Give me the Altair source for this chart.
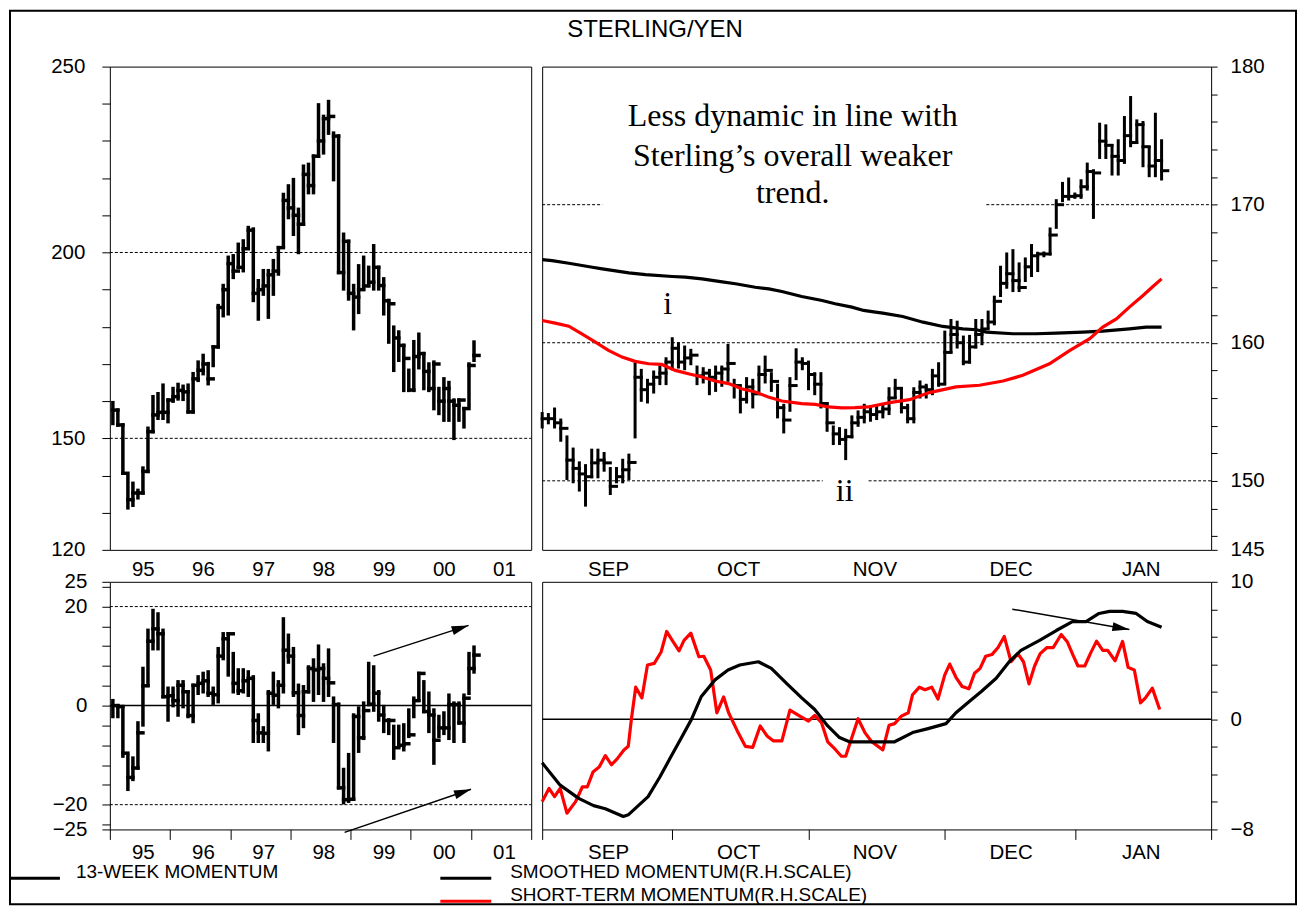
import json
import altair as alt
import pandas as pd

SANS = "Liberation Sans"
SERIF = "Liberation Serif"
RED = "#ff0000"

# ---------------- data: long-term (monthly) bars, top-left ----------------
tl_high = [159.6, 157.6, 153.6, 139.7, 137.9, 136.0, 142.0, 152.7, 161.2, 162.0,
           164.3, 160.3, 163.4, 164.5, 164.0, 164.3, 167.4, 170.5, 172.3, 170.1,
           174.6, 185.7, 191.1, 198.7, 199.1, 202.2, 203.1, 206.7, 206.3, 192.4,
           195.1, 195.1, 197.8, 201.3, 215.6, 217.9, 219.6, 211.6, 223.2, 223.7,
           225.9, 239.7, 236.6, 240.6, 232.1, 231.3, 204.9, 203.0, 191.1, 196.4,
           198.7, 196.0, 201.8, 196.0, 192.9, 187.1, 179.9, 178.6, 175.0, 168.3,
           176.0, 178.0, 172.8, 170.0, 170.5, 163.4, 166.0, 165.0, 160.3, 160.3,
           158.0, 170.0, 175.9]
tl_low = [154.0, 153.6, 140.6, 131.3, 132.0, 134.0, 135.3, 141.1, 151.8, 155.4,
          155.4, 154.5, 160.0, 160.6, 160.5, 157.1, 157.1, 165.6, 167.4, 164.7,
          169.6, 174.6, 183.0, 183.5, 193.3, 196.0, 195.1, 201.3, 187.1, 182.1,
          188.8, 182.6, 188.8, 194.2, 201.8, 209.4, 204.9, 200.0, 207.6, 216.1,
          216.1, 225.9, 226.8, 232.1, 219.6, 194.6, 190.2, 187.5, 179.5, 183.9,
          190.2, 191.1, 190.2, 190.2, 183.5, 175.9, 168.3, 171.0, 162.9, 162.9,
          162.9, 169.0, 163.4, 162.9, 158.0, 156.7, 154.9, 154.9, 150.0, 154.9,
          153.1, 158.9, 171.0]
tl_close = [157.6, 153.6, 140.6, 133.5, 135.3, 135.3, 141.1, 151.8, 156.3, 157.0,
            157.0, 160.3, 161.2, 162.9, 162.5, 157.1, 166.0, 168.3, 170.0, 166.0,
            174.6, 185.2, 190.0, 197.0, 195.0, 196.0, 201.0, 206.0, 189.0, 190.0,
            191.0, 194.0, 195.0, 201.3, 214.0, 212.0, 210.0, 207.6, 221.0, 218.0,
            225.9, 230.0, 236.0, 236.6, 231.3, 194.6, 203.0, 189.0, 188.0, 190.0,
            191.0, 192.0, 196.0, 191.1, 187.0, 186.2, 177.0, 175.0, 171.5, 163.0,
            172.0, 172.8, 168.0, 163.4, 170.0, 160.0, 163.4, 160.0, 158.9, 160.3,
            158.0, 169.6, 172.3]

# ---------------- data: 13-week momentum bars, bottom-left ----------------
mom_high = [1.0, 0.0, -0.2, -10.2, -10.6, -3.5, 7.5, 15.2, 19.2, 18.5,
            15.2, 3.5, 3.5, 4.8, 4.8, 2.8, 4.1, 5.8, 6.5, 6.8,
            3.5, 11.5, 14.5, 14.5, 10.5, 7.2, 7.2, 6.8, 5.8, -1.9,
            -4.5, 2.8, 6.5, 4.8, 17.5, 14.2, 11.5, 4.1, 3.8, 7.8,
            9.2, 12.0, 8.2, 11.2, 1.5, 0.3, -12.9, -9.9, -1.9, -0.5,
            0.5, 8.5, 7.8, 2.8, -0.2, -2.9, -4.2, -4.2, -3.9, -0.9,
            1.5, 6.5, 4.8, 2.5, -0.9, -2.2, -1.5, 2.1, 0.5, 0.5,
            2.1, 10.5, 11.8]
mom_low = [-2.2, -2.2, -10.2, -16.9, -14.9, -12.6, -3.9, 4.1, 11.5, 11.5,
           1.8, -2.9, 0.0, -1.9, -0.2, -2.2, -3.2, 2.5, 2.8, 2.1,
           0.5, 0.8, 9.5, 6.2, 2.8, 2.5, 2.8, 2.1, -7.2, -7.2,
           -7.2, -8.9, 0.5, -0.2, 2.8, 8.8, 2.1, -5.6, -4.2, 2.8,
           1.1, 2.5, 1.1, 2.1, -7.2, -16.6, -19.6, -19.3, -18.9, -9.2,
           -6.6, 0.2, -0.9, -2.9, -5.2, -5.6, -10.6, -8.2, -8.9, -6.2,
           -2.2, 1.1, -1.2, -5.2, -11.6, -6.2, -5.6, -6.6, -7.2, -3.5,
           -7.2, 2.5, 6.8]
mom_close = [0.0, -0.2, -9.6, -14.5, -12.6, -5.5, 4.0, 13.0, 15.5, 14.5,
             1.8, 2.0, 1.0, 4.1, 2.8, -2.0, 4.1, 4.5, 5.0, 2.5,
             2.2, 10.0, 13.5, 14.5, 4.5, 3.0, 5.0, 5.5, -3.0, -5.5,
             -5.6, 2.5, 2.1, 4.1, 11.2, 10.0, 2.6, -2.0, 2.8, 7.5,
             7.2, 7.5, 5.5, 4.6, 0.2, -16.6, -19.0, -18.9, -2.2, -6.5,
             -1.0, 0.3, 2.5, -1.9, -3.0, -3.0, -8.5, -8.0, -7.7, -5.9,
             1.0, 6.5, -1.2, -1.9, -7.0, -4.5, -4.5, 0.2, 0.2, -3.5,
             1.5, 7.5, 10.2]

# ---------------- data: daily bars, top-right (trading-day index) ----------------
day_high = [154.87, 154.8, 155.2, 154.4, 153.18, 152.3, 151.3, 151.1, 152.22, 152.22,
            151.98, 150.89, 150.89, 151.49, 151.86, 158.48, 158.0, 157.28, 157.88, 158.24,
            158.84, 160.29, 159.93, 159.69, 159.45, 158.24, 158.12, 158.0, 158.24, 158.24,
            159.81, 157.28, 156.67, 157.4, 157.28, 158.24, 158.96, 157.76, 156.92, 155.47,
            157.4, 159.49, 158.84, 158.6, 157.76, 157.76, 155.59, 153.9, 153.78, 153.66,
            154.63, 154.99, 155.47, 155.35, 155.35, 155.47, 156.67, 157.28, 156.67, 155.47,
            156.67, 157.16, 156.92, 158.0, 158.48, 160.77, 161.61, 161.49, 160.41, 160.46,
            161.61, 161.61, 162.22, 163.3, 165.47, 166.43, 166.67, 165.71, 166.07, 167.04,
            166.48, 166.5, 168.24, 170.29, 171.54, 171.86, 170.77, 171.73, 172.94, 172.46,
            175.83, 175.71, 174.27, 174.63, 176.31, 177.76, 176.07, 175.95, 174.14, 176.55,
            174.63]
day_low = [153.9, 154.2, 153.9, 152.94, 150.17, 149.93, 149.33, 148.24, 150.29, 150.29,
           150.77, 149.08, 149.93, 149.93, 150.17, 153.18, 155.83, 155.71, 156.43, 157.04,
           157.04, 158.12, 158.24, 158.12, 158.48, 157.04, 157.16, 156.31, 156.55, 156.92,
           157.28, 156.07, 154.99, 155.71, 155.35, 156.55, 157.16, 156.55, 154.63, 153.54,
           155.11, 157.4, 158.12, 156.67, 156.31, 155.35, 153.66, 152.7, 152.7, 151.61,
           153.18, 154.02, 154.27, 154.39, 154.51, 154.63, 154.87, 156.07, 154.99, 154.27,
           154.27, 156.07, 156.07, 156.31, 156.92, 157.16, 159.33, 159.69, 158.48, 158.6,
           159.69, 159.93, 161.13, 161.37, 163.42, 164.02, 163.78, 163.78, 164.51, 164.87,
           165.23, 166.3, 166.43, 168.36, 170.29, 170.41, 170.53, 170.53, 171.13, 169.08,
           173.42, 173.42, 172.22, 172.22, 173.06, 174.27, 174.51, 172.82, 172.1, 172.1,
           171.86]
day_close = [154.5, 154.5, 154.2, 153.8, 151.5, 150.9, 150.5, 150.3, 151.3, 151.5,
             151.3, 149.6, 150.3, 150.8, 151.33, 157.5, 156.6, 157.0, 157.5, 157.8,
             158.6, 159.6, 158.6, 158.9, 159.1, 157.6, 157.8, 157.5, 157.8, 158.1,
             158.5, 156.9, 155.9, 156.8, 156.3, 157.7, 158.0, 157.2, 155.3, 154.4,
             156.9, 158.6, 158.5, 157.7, 157.0, 155.6, 154.2, 153.4, 153.0, 153.2,
             154.2, 154.6, 155.0, 154.8, 155.0, 155.2, 156.0, 156.7, 155.3, 154.5,
             156.4, 156.8, 156.6, 157.6, 157.0, 159.3, 160.6, 160.0, 158.6, 159.7,
             160.6, 161.0, 161.5, 163.0, 164.3, 165.0, 164.5, 164.0, 165.5, 166.3,
             166.43, 166.43, 167.8, 170.0, 170.6, 170.6, 170.65, 171.3, 172.4, 172.3,
             174.6, 174.3, 173.5, 173.2, 175.0, 174.5, 175.8, 174.2, 172.8, 173.2,
             172.46]

# moving averages on the daily chart
ma_long_day = [0, 1.6, 4.3, 8.1, 9.7, 14, 16.7, 21, 23.1, 25.8, 28.8, 31.2, 34.4, 36.6, 38.7,
               41.9, 45.2, 47.3, 50, 51.9, 53.8, 55, 58.2, 61.5, 64.7, 67.9, 70.1, 71.7, 76,
               79.7, 83, 87.3, 90.5, 94.8, 97.5, 100]
ma_long_val = [166.02, 165.95, 165.76, 165.47, 165.35, 165.06, 164.94, 164.80, 164.75, 164.63,
               164.43, 164.27, 164.02, 163.90, 163.71, 163.35, 163.06, 162.82, 162.58, 162.34,
               162.22, 162.15, 161.90, 161.49, 161.18, 161.01, 160.94, 160.77, 160.65, 160.65,
               160.70, 160.77, 160.84, 161.01, 161.13, 161.13]
ma_short_day = [0, 2.1, 4.3, 6.4, 8.6, 10.7, 12.9, 15, 17.2, 19.3, 21.5, 23.6, 25.8, 27.9, 30.1,
                32.2, 34.4, 36.5, 38.7, 41.9, 44.1, 46.2, 48.4, 50.5, 52.6, 56.1, 59.3, 62.5,
                66.8, 70.6, 74.4, 77.6, 81.9, 85.2, 88.4, 90.5, 92.7, 94.8, 97, 98.6, 100]
ma_short_val = [161.61, 161.42, 161.20, 160.65, 160.05, 159.45, 158.96, 158.65, 158.48, 158.43,
                158.00, 157.76, 157.52, 157.23, 157.04, 156.67, 156.43, 156.07, 155.78, 155.59,
                155.54, 155.35, 155.28, 155.30, 155.35, 155.66, 155.88, 156.39, 156.80, 156.92,
                157.23, 157.64, 158.48, 159.45, 160.29, 161.13, 161.73, 162.58, 163.42, 164.07,
                164.63]

# momentum lines, bottom-right
smooth_day = [0, 2.9, 5.9, 8.3, 10.2, 13.1, 13.9, 17.1, 19, 20.6, 22.5, 24.1, 25.7, 27.9, 30,
              31.9, 34.9, 37, 39.7, 41.9, 44, 46.1, 48, 49.6, 53.7, 56.9, 59.8, 62.3, 65.2,
              66.8, 69, 70.9, 73.3, 75.4, 77.3, 80.3, 83, 85.6, 87.8, 89.9, 91.6, 93.7, 95.9,
              97.7, 100]
smooth_val = [-3.16, -4.78, -5.74, -6.27, -6.5, -7.06, -6.94, -5.62, -4.19, -2.87, -1.32, 0,
              1.67, 2.87, 3.59, 3.95, 4.19, 3.71, 2.51, 1.56, 0.72, -0.48, -1.32, -1.63, -1.63,
              -1.63, -0.96, -0.67, -0.31, 0.48, 1.32, 2.03, 2.99, 4.19, 5.02, 5.74, 6.46, 7.11,
              7.11, 7.70, 7.85, 7.85, 7.70, 7.11, 6.7]
short_day = [0, 1.1, 2, 2.9, 4, 5.4, 6.5, 7.3, 8.2, 9.2, 10.2, 11.2, 12.1, 13.2, 13.9, 14.4,
             15.1, 16.1, 17, 18.1, 19.2, 20.1, 21, 22.1, 22.9, 24, 25.3, 26.1, 27.2, 28.2,
             29.3, 30.1, 31.5, 32.8, 34, 35.2, 36.3, 37.3, 38.7, 40, 41.6, 43, 44, 45.1, 46.1,
             47, 48.3, 49, 50, 51, 52.1, 53.2, 55, 56, 56.9, 58, 59.1, 59.8, 60.9, 61.8, 62.9,
             63.9, 65, 65.8, 66.8, 67.8, 68.9, 69.8, 70.7, 71.6, 72.6, 73.6, 74.6, 75.7, 76.8,
             77.7, 78.6, 79.5, 80.4, 81.5, 82.5, 83.8, 84.8, 85.7, 86.5, 87.6, 88.5, 89.5,
             90.5, 91.3, 92.5, 93.7, 94.6, 95.6, 96.6, 97.4, 98.5, 99.7]
short_val = [-5.98, -5.02, -5.62, -5.02, -6.82, -5.98, -4.90, -4.90, -3.83, -3.47, -2.63, -3.30,
             -2.87, -2.22, -1.96, 0, 2.34, 1.56, 3.95, 4.07, 4.90, 6.39, 5.74, 4.98, 5.74, 6.27,
             4.55, 4.59, 3.59, 0.48, 1.63, 0.48, -0.84, -1.96, -2.03, -0.48, -1.20, -1.56, -1.56,
             0.67, 0.24, -0.12, 0.29, -0.24, -1.63, -2.03, -2.68, -2.68, -1.32, 0.05, -0.96,
             -1.63, -2.22, -0.43, -0.31, 0.24, 0.48, 1.79, 2.34, 2.15, 2.34, 1.48, 3.23, 4.02,
             3.06, 2.39, 2.22, 3.35, 3.71, 4.59, 4.71, 5.22, 6.03, 4.19, 4.78, 4.19, 2.58, 3.88,
             4.78, 5.22, 5.22, 6.17, 5.62, 4.67, 3.88, 3.88, 4.78, 5.69, 5.02, 5.02, 4.26, 5.67,
             3.78, 3.59, 1.20, 1.56, 2.27, 0.72]

# ---------------- axes / labels ----------------
years = [1995, 1996, 1997, 1998, 1999, 2000, 2001, 2002]
year_labels = ["95", "96", "97", "98", "99", "00", "01"]
month_starts = [0, 21, 43, 65, 86, 108]
month_labels = ["SEP", "OCT", "NOV", "DEC", "JAN"]

tl_ticks = list(range(120, 251, 10))
tl_labels = [120, 150, 200, 250]
tr_ticks = [145] + list(range(146, 181, 2))
tr_labels = [145, 150, 160, 170, 180]
bl_ticks = [-25] + list(range(-24, 25, 4)) + [25]
bl_labels = [-25, -20, 0, 20, 25]
br_ticks = list(range(-8, 11, 2))
br_labels = [-8, 0, 10]

legend_labels = ["13-WEEK MOMENTUM", "SMOOTHED MOMENTUM(R.H.SCALE)",
                 "SHORT-TERM MOMENTUM(R.H.SCALE)"]

# reference lines
tl_dash = [200, 150]
tr_dash_y = [170, 170, 160, 150, 150]
tr_dash_x0 = [0, 71.7, 0, 0, 52.7]
tr_dash_x1 = [9.7, 108, 108, 45.3, 108]
bl_dash = [20, -20]

annot_lines = ["Less dynamic in line with", "Sterling\u2019s overall weaker", "trend."]
annot_y = [176.4, 173.53, 170.81]
annot_x = 40.45
marks_text = ["i", "ii"]
marks_x = [20.26, 48.84]
marks_y = [162.81, 149.29]

# arrows
bl_arrow = {"x0": [1999.38, 1998.90], "y0": [10.0, -25.6], "x1": [2000.96, 2001.0],
            "y1": [16.2, -16.9], "ang": [342.1, 341.2]}
br_arrow = {"x0": [75.9], "y0": [8.01], "x1": [94.8], "y1": [6.53], "ang": [9.9]}
ARROW = "M0,0L-2,-0.53L-2,0.53Z"

W_L, W_R, H_T, H_B = 422, 670, 484, 248
FS = 20.5
FS_LEG = 19


def pick_expr(values, labels):
    v = json.dumps(values)
    return (f"indexof({v}, datum.value) >= 0 && indexof({v}, datum.value) < {len(labels)} ? "
            f"{json.dumps(labels)}[indexof({v}, datum.value)] : ''")


def show_expr(shown):
    return f"indexof({json.dumps(shown)}, datum.value) >= 0 ? datum.label : ''"


year_scale = alt.Scale(domain=[1995, 2002], nice=False, zero=False)
day_scale = alt.Scale(domain=[0, 108], nice=False, zero=False)

ax_tl_x = alt.Axis(values=years[:-1], labelExpr=pick_expr(years[:-1], year_labels), ticks=False,
                   tickSize=0, domain=False, labelOffset=33, labelPadding=10, labelFlush=False,
                   title=None, grid=False)
ax_bl_x = alt.Axis(values=years, labelExpr=pick_expr(years, year_labels), tickSize=10,
                   domain=False, labelOffset=33, labelPadding=3, labelFlush=False, title=None,
                   grid=False)
ax_tr_x = alt.Axis(values=month_starts[:-1], labelExpr=pick_expr(month_starts[:-1], month_labels),
                   ticks=False, tickSize=0, domain=False, labelOffset=66, labelPadding=10,
                   labelFlush=False, title=None, grid=False)
ax_br_x = alt.Axis(values=month_starts, labelExpr=pick_expr(month_starts, month_labels),
                   tickSize=10, domain=False, labelOffset=66, labelPadding=3, labelFlush=False,
                   title=None, grid=False)

ax_tl_y = alt.Axis(values=tl_ticks, labelExpr=show_expr(tl_labels), tickSize=8, labelPadding=17,
                   domain=False, title=None, grid=False)
ax_bl_y = alt.Axis(values=bl_ticks, labelExpr=show_expr(bl_labels), tickSize=8, labelPadding=15,
                   domain=False, title=None, grid=False)
ax_tr_y = alt.Axis(values=tr_ticks, labelExpr=show_expr(tr_labels), orient="right", tickSize=6,
                   labelPadding=13, domain=False, title=None, grid=False)
ax_br_y = alt.Axis(values=br_ticks, labelExpr=show_expr(br_labels), orient="right", tickSize=6,
                   labelPadding=13, domain=False, title=None, grid=False)


def enc(xscale, xaxis, yscale, yaxis):
    def X(f):
        return alt.X(f"{f}:Q", scale=xscale, axis=xaxis)

    def Y(f):
        return alt.Y(f"{f}:Q", scale=yscale, axis=yaxis)
    return X, Y


X_tl, Y_tl = enc(year_scale, ax_tl_x, alt.Scale(domain=[120, 250], nice=False, zero=False), ax_tl_y)
X_bl, Y_bl = enc(year_scale, ax_bl_x, alt.Scale(domain=[-25, 25], nice=False, zero=False), ax_bl_y)
X_tr, Y_tr = enc(day_scale, ax_tr_x, alt.Scale(domain=[145, 180], nice=False, zero=False), ax_tr_y)
X_br, Y_br = enc(day_scale, ax_br_x, alt.Scale(domain=[-8, 10], nice=False, zero=False), ax_br_y)


def bars(df, X, Y, sw):
    rng = alt.Chart(df).mark_rule(color="black", strokeWidth=sw, strokeCap="square").encode(
        x=X("x"), y=Y("low"), y2="high")
    tick = alt.Chart(df).mark_rule(color="black", strokeWidth=sw, strokeCap="square").encode(
        x=X("x"), x2="x_end", y=Y("close"))
    return [rng, tick]


def hlines(levels, X, Y, x0, x1, dash=True, sw=1.0):
    df = pd.DataFrame({"y": levels, "x0": x0, "x1": x1})
    kw = {"strokeDash": [3, 2]} if dash else {}
    return alt.Chart(df).mark_rule(color="black", strokeWidth=sw, **kw).encode(
        x=X("x0"), x2="x1", y=Y("y"))


def arrows(d, X, Y):
    df = pd.DataFrame(d)
    line = alt.Chart(df).mark_rule(color="black", strokeWidth=1.5).encode(
        x=X("x0"), y=Y("y0"), x2="x1", y2="y1")
    head = alt.Chart(df).mark_point(shape=ARROW, filled=True, color="black", opacity=1,
                                    size=290, strokeWidth=0).encode(
        x=X("x1"), y=Y("y1"), angle=alt.Angle("ang:Q", scale=None))
    return [line, head]


# monthly index -> fractional year
n_m = len(tl_high)
mx = [1995 + (i + 0.6) / 12 for i in range(n_m)]
mx_end = [v + 1 / 12 for v in mx]
tl_df = pd.DataFrame({"x": mx, "x_end": mx_end, "high": tl_high, "low": tl_low, "close": tl_close})
bl_df = pd.DataFrame({"x": mx, "x_end": mx_end, "high": mom_high, "low": mom_low, "close": mom_close})
n_d = len(day_high)
dx = list(range(n_d))
tr_df = pd.DataFrame({"x": dx, "x_end": [v + 1 for v in dx], "high": day_high, "low": day_low,
                      "close": day_close})

one = pd.DataFrame({"a": [0]})


def pix_text(txt, x, y, size, align="left", font=SANS, color="black"):
    return alt.Chart(one).mark_text(font=font, fontSize=size, align=align, baseline="middle",
                                    color=color).encode(
        x=alt.value(x), y=alt.value(y), text=alt.value(txt))


def pix_rule(x0, x1, y, color, sw):
    return alt.Chart(one).mark_rule(color=color, strokeWidth=sw).encode(
        x=alt.value(x0), x2=alt.value(x1), y=alt.value(y))


frame = alt.Chart(one).mark_rect(filled=False, stroke="black", strokeWidth=2).encode(
    x=alt.value(-100), x2=alt.value(1188), y=alt.value(-56), y2=alt.value(839))

decor = [
    frame,
    pix_text("STERLING/YEN", 546, -37, 24, align="center"),
    pix_rule(-99, -50, 813, "black", 3),
    pix_text(legend_labels[0], -34, 807, FS_LEG),
    pix_rule(331, 382, 813, "black", 3),
    pix_text(legend_labels[1], 401, 807, FS_LEG),
    pix_rule(331, 382, 836, RED, 3),
    pix_text(legend_labels[2], 401, 830, FS_LEG),
]

# ---------------- panels ----------------
tl = alt.layer(
    hlines(tl_dash, X_tl, Y_tl, [1995, 1995], [2002, 2002]),
    *bars(tl_df, X_tl, Y_tl, 3.5),
    *decor,
).properties(width=W_L, height=H_T)

ann_df = pd.DataFrame({"x": [annot_x] * 3, "y": annot_y, "t": annot_lines})
mk_df = pd.DataFrame({"x": marks_x, "y": marks_y, "t": marks_text})
ma_l = pd.DataFrame({"x": ma_long_day, "y": ma_long_val})
ma_s = pd.DataFrame({"x": ma_short_day, "y": ma_short_val})

tr = alt.layer(
    hlines(tr_dash_y, X_tr, Y_tr, tr_dash_x0, tr_dash_x1),
    *bars(tr_df, X_tr, Y_tr, 3),
    alt.Chart(ma_l).mark_line(color="black", strokeWidth=3.2).encode(x=X_tr("x"), y=Y_tr("y")),
    alt.Chart(ma_s).mark_line(color=RED, strokeWidth=3.2).encode(x=X_tr("x"), y=Y_tr("y")),
    alt.Chart(ann_df).mark_text(font=SERIF, fontSize=32, baseline="middle", align="center",
                                color="black").encode(x=X_tr("x"), y=Y_tr("y"), text="t:N"),
    alt.Chart(mk_df).mark_text(font=SERIF, fontSize=32, baseline="middle", align="center",
                               color="black").encode(x=X_tr("x"), y=Y_tr("y"), text="t:N"),
).properties(width=W_R, height=H_T)

bl = alt.layer(
    hlines(bl_dash, X_bl, Y_bl, [1995, 1995], [2002, 2002]),
    hlines([0], X_bl, Y_bl, [1995], [2002], dash=False, sw=1.5),
    *bars(bl_df, X_bl, Y_bl, 3.5),
    *arrows(bl_arrow, X_bl, Y_bl),
).properties(width=W_L, height=H_B)

sm = pd.DataFrame({"x": smooth_day, "y": smooth_val})
st = pd.DataFrame({"x": short_day, "y": short_val})
br = alt.layer(
    hlines([0], X_br, Y_br, [0], [108], dash=False, sw=1.5),
    alt.Chart(st).mark_line(color=RED, strokeWidth=3.2, strokeJoin="round").encode(
        x=X_br("x"), y=Y_br("y")),
    alt.Chart(sm).mark_line(color="black", strokeWidth=3.2, strokeJoin="round").encode(
        x=X_br("x"), y=Y_br("y")),
    *arrows(br_arrow, X_br, Y_br),
).properties(width=W_R, height=H_B)

chart = alt.concat(
    tl, tr, bl, br, columns=2, spacing={"row": 32, "column": 11}, bounds="flush",
    padding=0, background="white",
).configure_view(stroke="black", strokeWidth=1).configure_axis(
    labelFont=SANS, labelFontSize=FS, labelColor="black", tickColor="black",
    tickWidth=1, domainColor="black",
)

chart.save("out.html", embed_options={"renderer": "svg", "actions": False})
